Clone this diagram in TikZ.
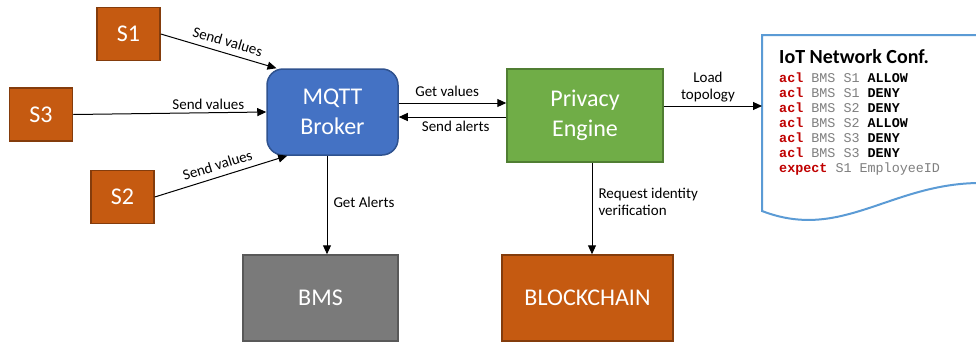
\documentclass[tikz,border=0pt]{standalone}
\usepackage{fontspec}
\setmainfont{Carlito}
\newfontfamily\codefont{Liberation Mono}
\usetikzlibrary{arrows.meta,calc}

\definecolor{rustfill}{HTML}{C55A11}
\definecolor{rustline}{HTML}{843C0C}
\definecolor{bluefill}{HTML}{4472C4}
\definecolor{blueline}{HTML}{2F528F}
\definecolor{greenfill}{HTML}{70AD47}
\definecolor{greenline}{HTML}{507E32}
\definecolor{greyfill}{HTML}{7A7A7A}
\definecolor{greyline}{HTML}{595959}
\definecolor{docline}{HTML}{5B9BD5}
\definecolor{kwred}{HTML}{C00000}
\definecolor{codegrey}{HTML}{7F7F7F}

% keyword helpers for the configuration listing
\newcommand\aclkw[1]{\textcolor{kwred}{\bfseries #1}}
\newcommand\plainarg[1]{\textcolor{codegrey}{#1}}
\newcommand\verdict[1]{\textbf{#1}}

\begin{document}
\begin{tikzpicture}[x=1pt,y=-1pt,
  box/.style={draw, line width=1.5pt, inner sep=0pt, text=white,
    font=\fontsize{24}{30}\selectfont, align=center},
  sensor/.style={box, fill=rustfill, draw=rustline, minimum width=63pt, minimum height=53pt},
  arr/.style={line width=1pt, -{Triangle[length=9pt,width=8pt]}},
  lbl/.style={font=\fontsize{15}{17}\selectfont, inner sep=2pt},
  code/.style={anchor=base west, inner sep=0pt, text height=10pt, text depth=3pt,
    font=\codefont\fontsize{13.4}{15}\selectfont}]

\useasboundingbox (0,0) rectangle (976,343);
\clip (0,0) rectangle (976,343);

% sensors
\node[sensor] (s1) at (128.5,34) {S1};
\node[sensor] (s3) at (41,114.5) {S3};
\node[sensor] (s2) at (122.5,197) {S2};

% main components
\node[box, fill=bluefill, draw=blueline, rounded corners=16pt,
      minimum width=131pt, minimum height=86pt] (mqtt) at (332.5,112) {MQTT\\Broker};
\node[box, fill=greenfill, draw=greenline,
      minimum width=156pt, minimum height=93pt] (privacy) at (585,115.5) {Privacy\\Engine};
\node[box, fill=greyfill, draw=greyline,
      minimum width=155pt, minimum height=86pt] (bms) at (320.5,298) {BMS};
\node[box, fill=rustfill, draw=rustline,
      minimum width=171pt, minimum height=86pt] (chain) at (587.5,298) {BLOCKCHAIN};

% configuration document
\draw[docline, line width=2pt, fill=white]
  (762,211) -- (762,35) -- (1030,35) -- (1030,185) -- (1010,185)
  .. controls (900,170) and (850,245) .. cycle;
\coordinate (confin) at (762,106);

\node[anchor=base west, inner sep=0pt, font=\bfseries\fontsize{20}{24}\selectfont]
  (conftitle) at (779,63) {IoT Network Conf.};
\node[code] (c1) at (779,82)  {\aclkw{acl} \plainarg{BMS S1} \verdict{ALLOW}};
\node[code] (c2) at (779,97)  {\aclkw{acl} \plainarg{BMS S1} \verdict{DENY}};
\node[code] (c3) at (779,112) {\aclkw{acl} \plainarg{BMS S2} \verdict{DENY}};
\node[code] (c4) at (779,127) {\aclkw{acl} \plainarg{BMS S2} \verdict{ALLOW}};
\node[code] (c5) at (779,142) {\aclkw{acl} \plainarg{BMS S3} \verdict{DENY}};
\node[code] (c6) at (779,157) {\aclkw{acl} \plainarg{BMS S3} \verdict{DENY}};
\node[code] (c7) at (779,172) {\aclkw{expect} \plainarg{S1 EmployeeID}};

% sensor readings into the broker
\draw[arr] (s1.east) -- node[lbl, sloped, above=4pt, pos=0.55] {Send values} (mqtt.142);
\draw[arr] (s3.east) -- node[lbl, above=1pt, pos=0.7] {Send values} (mqtt.west);
\draw[arr] (s2.east) -- node[lbl, sloped, above=4pt, pos=0.5] {Send values} (mqtt.224);

% broker <-> privacy engine
\draw[arr] (mqtt.east |- 0,103) -- node[lbl, above=4pt, pos=0.45] {Get values} (privacy.west |- 0,103);
\draw[arr] (privacy.west |- 0,117) -- node[lbl, below=2pt, pos=0.47] {Send alerts} (mqtt.east |- 0,117);

% outgoing links
\draw[arr] (privacy.east |- 0,106) -- node[lbl, above=1pt, pos=0.45, align=center] {Load\\topology} (confin);
\draw[arr] (mqtt.south -| 327,0) -- node[lbl, right=4pt, pos=0.47] {Get Alerts} (bms.north -| 327,0);
\draw[arr] (privacy.south -| 592,0) -- node[lbl, right=4pt, pos=0.43, align=left] {Request identity\\verification} (chain.north -| 592,0);
\end{tikzpicture}
\end{document}
